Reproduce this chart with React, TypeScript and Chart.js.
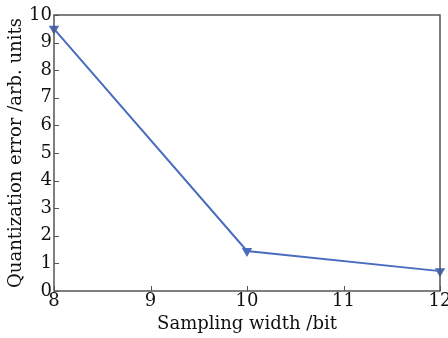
import React, { useEffect, useRef } from "react";
import { Chart, registerables } from "chart.js";

Chart.register(...registerables);

const samplingWidth = [8, 10, 12];
const quantError = [9.5, 1.45, 0.72];
const xTicks = [8, 9, 10, 11, 12];
const yTicks = [0, 1, 2, 3, 4, 5, 6, 7, 8, 9, 10];

const FONT = "'DejaVu Serif', 'Liberation Serif', serif";
const AXIS_COLOR = "#555555";

const frame = {
  id: "frame",
  afterDraw(chart: any) {
    const { ctx, chartArea, scales } = chart;
    ctx.save();
    ctx.strokeStyle = AXIS_COLOR;
    ctx.lineWidth = 1.5;
    ctx.strokeRect(chartArea.left, chartArea.top, chartArea.right - chartArea.left, chartArea.bottom - chartArea.top);
    ctx.lineWidth = 1;
    ctx.beginPath();
    xTicks.forEach((v) => {
      const x = Math.round(scales.x.getPixelForValue(v)) + 0.5;
      ctx.moveTo(x, chartArea.bottom);
      ctx.lineTo(x, chartArea.bottom - 5);
    });
    yTicks.forEach((v) => {
      const y = Math.round(scales.y.getPixelForValue(v)) + 0.5;
      ctx.moveTo(chartArea.left, y);
      ctx.lineTo(chartArea.left + 5, y);
    });
    ctx.stroke();
    ctx.restore();
  },
};

export default function App() {
  const ref = useRef<HTMLCanvasElement>(null);
  useEffect(() => {
    document.body.style.margin = "0";
    const chart = new Chart(ref.current!, {
      type: "scatter",
      data: {
        datasets: [
          {
            data: samplingWidth.map((x, i) => ({ x, y: quantError[i] })),
            showLine: true,
            borderColor: "#4a6cc0",
            backgroundColor: "#4a6cc0",
            borderWidth: 2,
            pointStyle: "triangle",
            rotation: 180,
            pointRadius: 4,
            clip: false,
          },
        ],
      },
      options: {
        animation: false,
        responsive: false,
        layout: { padding: { top: 15, right: 8, left: 0, bottom: 0 } },
        plugins: { legend: { display: false }, tooltip: { enabled: false } },
        scales: {
          x: {
            type: "linear",
            min: 8,
            max: 12,
            afterBuildTicks: (s: any) => { s.ticks = xTicks.map((v) => ({ value: v })); },
            afterFit: (s: any) => { s.height = 47; s.paddingRight = 0; s.paddingLeft = 0; },
            grid: { display: false, drawTicks: false },
            border: { display: false },
            ticks: { color: "#111", font: { family: FONT, size: 18 }, padding: 0, maxRotation: 0 },
            title: { display: true, text: "Sampling width /bit", color: "#111", font: { family: FONT, size: 18 }, padding: { top: 0, bottom: 3 } },
          },
          y: {
            type: "linear",
            min: 0,
            max: 10,
            afterBuildTicks: (s: any) => { s.ticks = yTicks.map((v) => ({ value: v })); },
            afterFit: (s: any) => { s.width = 54; s.paddingTop = 0; s.paddingBottom = 0; },
            grid: { display: false, drawTicks: false },
            border: { display: false },
            ticks: { color: "#111", font: { family: FONT, size: 18 }, padding: 2 },
            title: { display: true, text: "Quantization error /arb. units", color: "#111", font: { family: FONT, size: 18 }, padding: { top: 6, bottom: 0 } },
          },
        },
      },
      plugins: [frame],
    });
    return () => chart.destroy();
  }, []);
  return (
    <div style={{ width: 448, height: 338 }}>
      <canvas ref={ref} width={448} height={338} style={{ width: 448, height: 338, display: "block" }} />
    </div>
  );
}
